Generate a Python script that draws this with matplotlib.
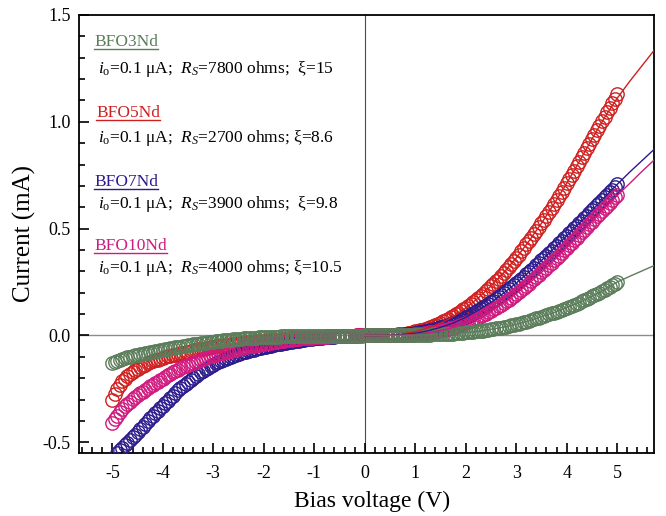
import numpy as np
import matplotlib
matplotlib.use("Agg")
import matplotlib.pyplot as plt
from matplotlib.ticker import MultipleLocator
from matplotlib.lines import Line2D

plt.rcParams['font.family'] = ['Liberation Serif', 'DejaVu Serif']
plt.rcParams['mathtext.fontset'] = 'custom'
plt.rcParams['mathtext.rm'] = 'Liberation Serif'
plt.rcParams['mathtext.it'] = 'Liberation Serif:italic'

# ---- data (bias voltage sweep -5 .. 5 V in 0.05 V steps ; current in mA) ----
bias_v = np.linspace(-5.0, 5.0, 201)

bfo5_i = [
    -0.300, -0.272, -0.250, -0.231, -0.215, -0.202, -0.190, -0.180, -0.170, -0.162,
    -0.155, -0.148, -0.142, -0.136, -0.130, -0.125, -0.121, -0.117, -0.113, -0.109,
    -0.105, -0.101, -0.098, -0.095, -0.092, -0.089, -0.086, -0.083, -0.080, -0.077,
    -0.075, -0.072, -0.070, -0.067, -0.065, -0.063, -0.061, -0.059, -0.057, -0.055,
    -0.053, -0.051, -0.050, -0.048, -0.046, -0.044, -0.043, -0.041, -0.040, -0.038,
    -0.037, -0.035, -0.034, -0.032, -0.031, -0.030, -0.029, -0.028, -0.027, -0.026,
    -0.025, -0.024, -0.023, -0.022, -0.021, -0.020, -0.019, -0.018, -0.017, -0.016,
    -0.015, -0.014, -0.013, -0.012, -0.011, -0.010, -0.010, -0.009, -0.008, -0.008,
    -0.007, -0.006, -0.006, -0.005, -0.005, -0.004, -0.004, -0.003, -0.003, -0.002,
    -0.002, -0.002, -0.002, -0.001, -0.001, -0.001, -0.001, 0.000, 0.000, 0.000,
    0.000, 0.000, 0.000, 0.000, 0.000, 0.001, 0.001, 0.001, 0.001, 0.002,
    0.002, 0.003, 0.004, 0.005, 0.006, 0.007, 0.009, 0.011, 0.013, 0.016,
    0.019, 0.022, 0.025, 0.028, 0.032, 0.036, 0.040, 0.045, 0.050, 0.055,
    0.060, 0.066, 0.072, 0.078, 0.085, 0.092, 0.099, 0.106, 0.114, 0.122,
    0.130, 0.138, 0.147, 0.156, 0.166, 0.176, 0.186, 0.196, 0.207, 0.218,
    0.230, 0.242, 0.254, 0.266, 0.279, 0.292, 0.306, 0.320, 0.334, 0.348,
    0.363, 0.378, 0.394, 0.410, 0.426, 0.442, 0.458, 0.474, 0.491, 0.508,
    0.525, 0.542, 0.560, 0.578, 0.597, 0.616, 0.635, 0.654, 0.673, 0.692,
    0.712, 0.732, 0.752, 0.772, 0.793, 0.814, 0.835, 0.856, 0.877, 0.898,
    0.919, 0.940, 0.961, 0.982, 1.003, 1.024, 1.045, 1.066, 1.087, 1.108,
    1.130]

bfo7_i = [
    np.nan, np.nan, -0.551, -0.538, -0.526, -0.513, -0.501, -0.488, -0.476, -0.464,
    -0.452, -0.439, -0.427, -0.414, -0.401, -0.388, -0.376, -0.364, -0.352, -0.340,
    -0.328, -0.316, -0.305, -0.293, -0.281, -0.269, -0.257, -0.246, -0.236, -0.226,
    -0.216, -0.207, -0.198, -0.189, -0.181, -0.173, -0.165, -0.157, -0.150, -0.143,
    -0.137, -0.131, -0.125, -0.119, -0.114, -0.109, -0.104, -0.099, -0.095, -0.091,
    -0.087, -0.083, -0.079, -0.075, -0.072, -0.069, -0.066, -0.063, -0.060, -0.057,
    -0.055, -0.052, -0.050, -0.047, -0.045, -0.042, -0.040, -0.038, -0.036, -0.034,
    -0.032, -0.030, -0.028, -0.026, -0.024, -0.022, -0.020, -0.018, -0.017, -0.015,
    -0.014, -0.012, -0.011, -0.010, -0.009, -0.008, -0.007, -0.006, -0.005, -0.004,
    -0.004, -0.003, -0.003, -0.002, -0.002, -0.001, -0.001, -0.001, 0.000, 0.000,
    0.000, 0.000, 0.000, 0.000, 0.000, 0.000, 0.000, 0.001, 0.001, 0.001,
    0.001, 0.002, 0.002, 0.003, 0.003, 0.004, 0.005, 0.006, 0.007, 0.008,
    0.010, 0.012, 0.014, 0.016, 0.019, 0.022, 0.025, 0.028, 0.031, 0.034,
    0.038, 0.041, 0.045, 0.049, 0.054, 0.058, 0.063, 0.068, 0.074, 0.079,
    0.085, 0.091, 0.098, 0.104, 0.111, 0.118, 0.125, 0.132, 0.140, 0.147,
    0.155, 0.163, 0.171, 0.180, 0.189, 0.198, 0.207, 0.216, 0.225, 0.235,
    0.245, 0.255, 0.265, 0.275, 0.286, 0.296, 0.307, 0.318, 0.329, 0.340,
    0.351, 0.362, 0.374, 0.385, 0.397, 0.408, 0.420, 0.431, 0.443, 0.454,
    0.466, 0.478, 0.490, 0.501, 0.513, 0.525, 0.537, 0.549, 0.561, 0.573,
    0.585, 0.597, 0.609, 0.621, 0.634, 0.646, 0.658, 0.670, 0.682, 0.694,
    0.707]

bfo10_i = [
    -0.410, -0.392, -0.375, -0.360, -0.345, -0.332, -0.320, -0.309, -0.298, -0.289,
    -0.280, -0.271, -0.263, -0.254, -0.246, -0.238, -0.231, -0.223, -0.216, -0.209,
    -0.202, -0.194, -0.187, -0.180, -0.173, -0.166, -0.160, -0.154, -0.148, -0.143,
    -0.138, -0.133, -0.128, -0.123, -0.119, -0.114, -0.110, -0.105, -0.101, -0.097,
    -0.093, -0.089, -0.086, -0.083, -0.080, -0.077, -0.074, -0.071, -0.068, -0.065,
    -0.062, -0.059, -0.056, -0.053, -0.051, -0.049, -0.047, -0.045, -0.043, -0.041,
    -0.039, -0.037, -0.035, -0.033, -0.031, -0.029, -0.027, -0.025, -0.024, -0.022,
    -0.021, -0.019, -0.018, -0.016, -0.015, -0.014, -0.013, -0.012, -0.011, -0.010,
    -0.009, -0.008, -0.007, -0.006, -0.006, -0.005, -0.004, -0.004, -0.003, -0.003,
    -0.002, -0.002, -0.002, -0.001, -0.001, -0.001, -0.001, 0.000, 0.000, 0.000,
    0.000, 0.000, 0.000, 0.000, 0.000, 0.000, 0.000, 0.000, 0.000, 0.000,
    0.000, 0.001, 0.001, 0.001, 0.001, 0.002, 0.002, 0.003, 0.003, 0.004,
    0.005, 0.006, 0.007, 0.008, 0.010, 0.012, 0.014, 0.016, 0.018, 0.020,
    0.022, 0.025, 0.028, 0.031, 0.034, 0.037, 0.041, 0.045, 0.049, 0.053,
    0.057, 0.062, 0.067, 0.072, 0.077, 0.083, 0.089, 0.095, 0.101, 0.108,
    0.115, 0.122, 0.129, 0.136, 0.144, 0.152, 0.160, 0.168, 0.177, 0.186,
    0.195, 0.204, 0.213, 0.223, 0.233, 0.243, 0.253, 0.263, 0.273, 0.284,
    0.295, 0.306, 0.317, 0.328, 0.340, 0.351, 0.363, 0.374, 0.386, 0.398,
    0.410, 0.422, 0.434, 0.446, 0.458, 0.470, 0.483, 0.495, 0.508, 0.520,
    0.532, 0.545, 0.558, 0.570, 0.583, 0.595, 0.608, 0.620, 0.633, 0.646,
    0.659]

bfo3_i = [
    -0.130, -0.125, -0.120, -0.115, -0.111, -0.107, -0.103, -0.099, -0.096, -0.093,
    -0.091, -0.088, -0.086, -0.083, -0.081, -0.078, -0.076, -0.074, -0.072, -0.069,
    -0.067, -0.065, -0.063, -0.060, -0.058, -0.056, -0.054, -0.052, -0.050, -0.048,
    -0.046, -0.044, -0.042, -0.040, -0.039, -0.037, -0.035, -0.033, -0.032, -0.030,
    -0.029, -0.027, -0.026, -0.024, -0.023, -0.022, -0.021, -0.019, -0.018, -0.017,
    -0.016, -0.015, -0.014, -0.013, -0.012, -0.011, -0.010, -0.010, -0.009, -0.008,
    -0.008, -0.007, -0.007, -0.006, -0.006, -0.005, -0.005, -0.004, -0.004, -0.004,
    -0.004, -0.003, -0.003, -0.003, -0.003, -0.002, -0.002, -0.002, -0.002, -0.001,
    -0.001, -0.001, -0.001, -0.001, -0.001, -0.001, -0.001, -0.001, -0.001, -0.001,
    -0.001, -0.001, -0.001, -0.001, -0.001, -0.001, -0.001, -0.001, -0.001, -0.001,
    0.000, 0.000, 0.000, 0.000, 0.000, 0.000, 0.000, 0.000, 0.000, 0.000,
    0.001, 0.001, 0.001, 0.001, 0.001, 0.002, 0.002, 0.002, 0.002, 0.002,
    0.002, 0.003, 0.003, 0.003, 0.004, 0.004, 0.004, 0.005, 0.005, 0.006,
    0.006, 0.007, 0.007, 0.008, 0.009, 0.009, 0.010, 0.011, 0.012, 0.013,
    0.014, 0.015, 0.016, 0.018, 0.019, 0.020, 0.022, 0.023, 0.025, 0.027,
    0.029, 0.031, 0.033, 0.035, 0.037, 0.040, 0.042, 0.045, 0.047, 0.050,
    0.053, 0.056, 0.059, 0.062, 0.065, 0.069, 0.072, 0.076, 0.080, 0.084,
    0.088, 0.091, 0.095, 0.099, 0.103, 0.107, 0.111, 0.115, 0.120, 0.125,
    0.130, 0.134, 0.139, 0.144, 0.149, 0.154, 0.160, 0.165, 0.171, 0.177,
    0.183, 0.189, 0.195, 0.201, 0.208, 0.215, 0.222, 0.229, 0.236, 0.243,
    0.250]

# fitted curves (0 .. 5.75 V, 0.25 V steps)
fit_v = np.linspace(0.0, 5.75, 24)
bfo5_fit = [0.000, 0.000, 0.002, 0.007, 0.018, 0.035, 0.058, 0.088, 0.128, 0.176, 0.231, 0.293,
            0.363, 0.441, 0.525, 0.616, 0.712, 0.814, 0.919, 1.020, 1.110, 1.190, 1.265, 1.340]
bfo7_fit = [0.000, 0.000, 0.001, 0.004, 0.010, 0.022, 0.038, 0.058, 0.085, 0.118, 0.155, 0.198,
            0.245, 0.296, 0.351, 0.408, 0.466, 0.525, 0.585, 0.646, 0.707, 0.765, 0.820, 0.875]
bfo10_fit = [0.000, 0.000, 0.000, 0.001, 0.005, 0.012, 0.022, 0.037, 0.057, 0.083, 0.115, 0.152,
             0.195, 0.243, 0.295, 0.351, 0.410, 0.470, 0.532, 0.595, 0.655, 0.712, 0.770, 0.825]
bfo3_fit = [0.000, 0.000, 0.001, 0.001, 0.002, 0.004, 0.006, 0.009, 0.014, 0.020, 0.029, 0.039,
            0.053, 0.068, 0.088, 0.107, 0.130, 0.155, 0.183, 0.215, 0.250, 0.277, 0.303, 0.329]

names = ['BFO3Nd', 'BFO5Nd', 'BFO7Nd', 'BFO10Nd']
params = [r'$i_\mathrm{o}$=0.1 μA;  $R_S$=7800 ohms;  ξ=15',
          r'$i_\mathrm{o}$=0.1 μA;  $R_S$=2700 ohms; ξ=8.6',
          r'$i_\mathrm{o}$=0.1 μA;  $R_S$=3900 ohms;  ξ=9.8',
          r'$i_\mathrm{o}$=0.1 μA;  $R_S$=4000 ohms; ξ=10.5']
colors = {'BFO3Nd': '#5b7d5a', 'BFO5Nd': '#cf1f1f', 'BFO7Nd': '#2c1b8c', 'BFO10Nd': '#cf1a7e'}

# ---- figure ----
fig = plt.figure(figsize=(6.66, 5.16), dpi=100)
ax = fig.add_axes([79/666, 1-453/516, (654-79)/666, (453-15)/516])

ax.axhline(0, color='#8c8c8c', lw=1.0, zorder=1)
ax.axvline(0, color='#4a4a4a', lw=0.8, zorder=1)

mk = dict(marker='o', ls='none', mfc='none', ms=9.6, mew=1.0, zorder=3)
ax.plot(bias_v, bfo5_i, mec=colors['BFO5Nd'], **mk)
ax.plot(bias_v, bfo7_i, mec=colors['BFO7Nd'], **mk)
ax.plot(bias_v, bfo10_i, mec=colors['BFO10Nd'], **mk)
ax.plot(bias_v, bfo3_i, mec=colors['BFO3Nd'], **mk)

for fit, nm in [(bfo5_fit, 'BFO5Nd'), (bfo7_fit, 'BFO7Nd'), (bfo10_fit, 'BFO10Nd'), (bfo3_fit, 'BFO3Nd')]:
    ax.plot(fit_v, fit, color=colors[nm], lw=1.0, zorder=4)

ax.set_xlim(-5.66, 5.73)
ax.set_ylim(-0.55, 1.5)
ax.xaxis.set_minor_locator(MultipleLocator(0.2))
ax.yaxis.set_minor_locator(MultipleLocator(0.1))
ax.set_xticks(np.arange(-5, 6, 1))
ax.set_xticklabels([str(v) for v in range(-5, 6)])
ax.set_yticks([-0.5, 0.0, 0.5, 1.0, 1.5])
ax.set_yticklabels(['-0.5', '0.0', '0.5', '1.0', '1.5'])
ax.tick_params(which='both', direction='in', top=False, right=False, width=1.2, labelsize=13)
ax.tick_params(which='major', length=7)
ax.tick_params(axis='x', which='major', pad=9)
ax.tick_params(axis='y', which='major', pad=6)
ax.tick_params(which='minor', length=4)
for s in ax.spines.values():
    s.set_linewidth(1.3)

ax.set_xlabel('Bias voltage (V)', fontsize=17, labelpad=6)
ax.xaxis.label.set_x(0.51)
ax.set_ylabel('Current (mA)', fontsize=18, labelpad=5)

# annotations (baselines in pixel rows of the figure)
W, H = 654-79, 453-15
def fy(px):
    return 1 - (px - 15) / H
def fx(px):
    return (px - 79) / W

title_pos = [(94, 45.5), (96, 117), (94, 186), (94, 250)]
param_pos = [(98, 73), (98, 142), (98, 208), (98, 272)]
titles = []
for nm, (tx, ty), (px_, py_), pr in zip(names, title_pos, param_pos, params):
    t = ax.text(fx(tx), fy(ty), nm, transform=ax.transAxes, color=colors[nm],
                fontsize=12.5, va='baseline', ha='left')
    titles.append((t, nm))
    ax.text(fx(px_), fy(py_), pr, transform=ax.transAxes, color='black',
            fontsize=12.5, va='baseline', ha='left')

fig.canvas.draw()
r = fig.canvas.get_renderer()
inv = ax.transAxes.inverted()
for t, nm in titles:
    bb = t.get_window_extent(r)
    _, ybase = ax.transAxes.transform(t.get_position())
    yline = ybase - 3
    (ax0, ay0) = inv.transform((bb.x0, yline))
    (ax1, ay1) = inv.transform((bb.x1, yline))
    ax.add_line(Line2D([ax0, ax1], [ay0, ay1], transform=ax.transAxes,
                       color=colors[nm], lw=1.0, clip_on=False))

fig.savefig('out.png', dpi=100)
